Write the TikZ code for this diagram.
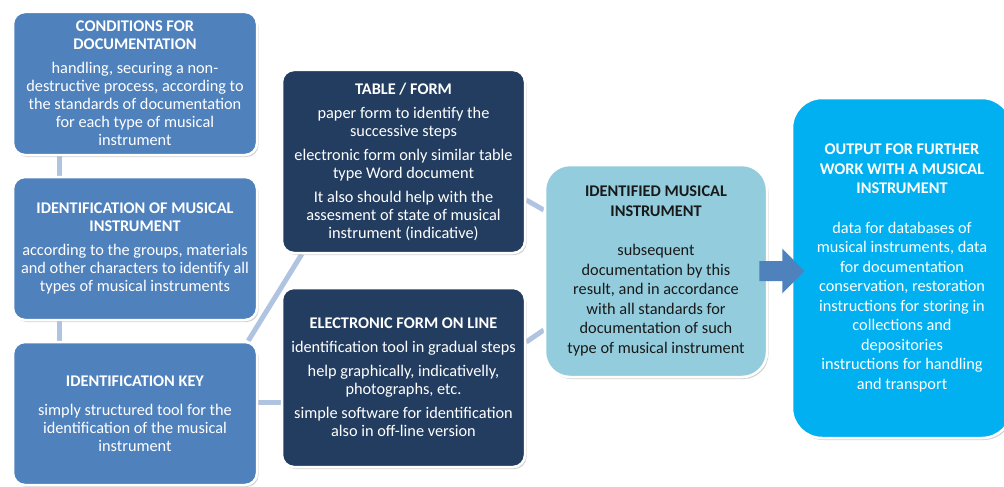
\documentclass[tikz,border=0pt]{standalone}
\usepackage{fontspec}
\setmainfont{Carlito}
\usetikzlibrary{shadows,backgrounds}
\definecolor{boxblue}{HTML}{4F81BD}
\definecolor{navy}{HTML}{233D60}
\definecolor{paleblue}{HTML}{93CDDD}
\definecolor{skyblue}{HTML}{00B0F0}
\definecolor{linkblue}{HTML}{B0C4E2}
\tikzset{
  card/.style={draw=white, line width=2.5pt, rounded corners=12pt, align=center,
    text=white, inner sep=2pt, font=\fontsize{16.3}{18}\selectfont,
    drop shadow={shadow xshift=1.5pt, shadow yshift=-2pt, opacity=0.3, fill=black!60}},
  tall/.style={font=\fontsize{16.3}{19.5}\selectfont},
  link/.style={draw=linkblue, line width=5pt},
}
\begin{document}
\begin{tikzpicture}[x=1pt, y=-1pt]
  \useasboundingbox (0,0) rectangle (1004,487);
  % left column
  \node[card, fill=boxblue, minimum width=244pt, minimum height=143pt] (cond) at (135,83.5)
    {\textbf{CONDITIONS FOR}\\\textbf{DOCUMENTATION}\\[6pt]
     handling, securing a non-\\destructive process, according to\\the standards of documentation\\for each type of musical\\instrument};
  \node[card, fill=boxblue, minimum width=244pt, minimum height=143pt] (ident) at (135,248.5)
    {\textbf{IDENTIFICATION OF MUSICAL}\\\textbf{INSTRUMENT}\\[6pt]
     according to the groups, materials\\and other characters to identify all\\types of musical instruments};
  \node[card, fill=boxblue, minimum width=244pt, minimum height=143pt] (key) at (135,413.5)
    {\textbf{IDENTIFICATION KEY}\\[11pt]
     simply structured tool for the\\identification of the musical\\instrument};
  % middle column
  \node[card, fill=navy, minimum width=243pt, minimum height=183pt] (table) at (403.5,161.5)
    {\textbf{TABLE / FORM}\\[6pt]
     paper form to identify the\\successive steps\\[6pt]
     electronic form only similar table\\type Word document\\[6pt]
     It also should help with the\\assesment of state of musical\\instrument (indicative)};
  \node[card, fill=navy, minimum width=243pt, minimum height=179pt] (eform) at (403.5,377.5)
    {\textbf{ELECTRONIC FORM ON LINE}\\[6pt]
     identification tool in gradual steps\\[6pt]
     help graphically, indicativelly,\\photographs, etc.\\[6pt]
     simple software for identification\\also in off-line version};
  % right side
  \node[card, tall, fill=paleblue, text=black!90, rounded corners=25pt,
        minimum width=222pt, minimum height=212pt] (result) at (656,271)
    {\textbf{IDENTIFIED MUSICAL}\\\textbf{INSTRUMENT}\\[20pt]
     subsequent\\documentation by this\\result, and in accordance\\with all standards for\\documentation of such\\type of musical instrument};
  \node[card, tall, fill=skyblue, rounded corners=30pt,
        minimum width=220pt, minimum height=340pt] (output) at (902,268)
    {\textbf{OUTPUT FOR FURTHER}\\\textbf{WORK WITH A MUSICAL}\\\textbf{INSTRUMENT}\\[20pt]
     data for databases of\\musical instruments, data\\for documentation\\conservation, restoration\\instructions for storing in\\collections and\\depositories\\instructions for handling\\and transport};
  % block arrow
  \coordinate (tail) at ([xshift=-9pt]result.east);
  \fill[boxblue] ([yshift=10pt]tail) -- ++(23,0) -- ++(0,-12.5) -- ++(22,22.5)
    -- ++(-22,22.5) -- ++(0,-12.5) -- ++(-23,0) -- cycle;
  % connectors
  \begin{scope}[on background layer]
    \draw[link] ([xshift=48pt]cond.south west) -- ([xshift=48pt]ident.north west);
    \draw[link] ([xshift=48pt]ident.south west) -- ([xshift=48pt]key.north west);
    \draw[link] ([xshift=-10pt]key.north east) -- ([xshift=21pt]table.south west);
    \draw[link] ([yshift=11.5pt]key.east) -- ([yshift=-24.5pt]eform.west);
    \draw[link] ([yshift=-38.5pt]table.east) -- ([yshift=61pt]result.west);
    \draw[link] ([yshift=35.5pt]eform.east) -- ([yshift=-59pt]result.west);
  \end{scope}
\end{tikzpicture}
\end{document}
